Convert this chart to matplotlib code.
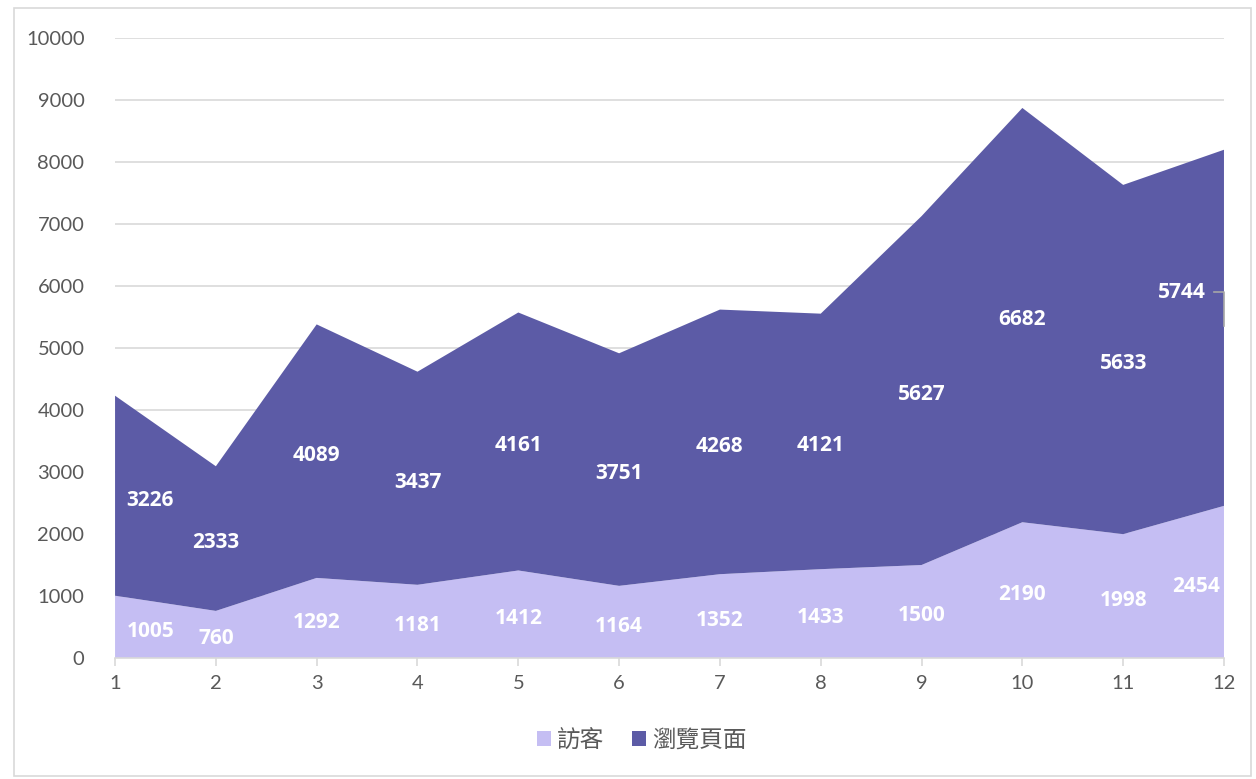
import numpy as np
import matplotlib.pyplot as plt
from matplotlib.patches import Rectangle

plt.rcParams['font.family'] = ['Lato', 'Noto Sans CJK TC', 'DejaVu Sans']

months = [1, 2, 3, 4, 5, 6, 7, 8, 9, 10, 11, 12]
visitors = [1005, 760, 1292, 1181, 1412, 1164, 1352, 1433, 1500, 2190, 1998, 2454]
pageviews = [3226, 2333, 4089, 3437, 4161, 3751, 4268, 4121, 5627, 6682, 5633, 5744]
series_names = ['訪客', '瀏覽頁面']

c_light = '#C5BEF3'
c_dark = '#5C5BA6'

fig = plt.figure(figsize=(12.56, 7.79), dpi=100)
fig.patches.append(Rectangle((0.011, 0.004), 0.985, 0.986, transform=fig.transFigure,
                             fill=False, edgecolor='#D9D9D9', linewidth=1.2))
ax = fig.add_axes([0.0916, 0.1553, 0.8829, 0.7959])

x = np.array(months)
v = np.array(visitors)
p = np.array(pageviews)
ax.stackplot(x, v, p, colors=[c_light, c_dark], labels=series_names, linewidth=0)

ax.set_xlim(1, 12)
ax.set_ylim(0, 10000)
ax.set_yticks(np.arange(0, 10001, 1000))
ax.set_xticks(x)
ax.grid(axis='y', color='#D9D9D9', linewidth=1.2)
ax.set_axisbelow(True)
for s in ['top', 'right', 'left']:
    ax.spines[s].set_visible(False)
ax.spines['bottom'].set_color('#D9D9D9')
ax.spines['bottom'].set_linewidth(1.2)
ax.spines['bottom'].set_zorder(5)
ax.tick_params(axis='y', length=0, pad=22, labelsize=14.5, labelcolor='#595959')
ax.tick_params(axis='x', length=6, width=1.2, color='#D9D9D9', pad=6,
               labelsize=14.5, labelcolor='#595959')

lbl = dict(color='white', fontsize=15, fontweight='bold', ha='center', va='center',
           zorder=6, family=['Open Sans', 'DejaVu Sans'])

# data labels
def shift(i):
    if i == 0:
        return 0.35
    if i == len(x) - 1:
        return -0.28
    return 0

for i in range(len(x)):
    ax.text(x[i] + shift(i), v[i] / 2 - 70, str(v[i]), **lbl)
    if i == len(x) - 1:
        ypos = 5900
        ax.text(x[i] - 0.42, ypos, str(p[i]), **lbl)
        ax.plot([x[i] - 0.1, x[i], x[i]], [ypos, ypos, ypos - 550], color='#A6A6A6',
                linewidth=1.2, clip_on=False, zorder=6)
    else:
        ax.text(x[i] + shift(i), v[i] + p[i] / 2 - 70, str(p[i]), **lbl)

leg = ax.legend(loc='upper center', bbox_to_anchor=(0.475, -0.08), ncol=2, frameon=False,
                handlelength=0.6, handleheight=0.6, handletextpad=0.25, columnspacing=1.2,
                prop={'family': ['Noto Sans CJK TC', 'DejaVu Sans'], 'size': 17})
for t in leg.get_texts():
    t.set_color('#595959')

fig.savefig('out.png', dpi=100)
